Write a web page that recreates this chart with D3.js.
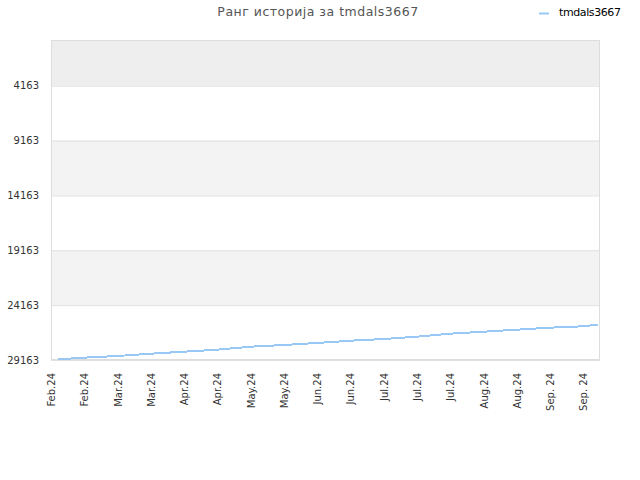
<!DOCTYPE html>
<html>
<head>
<meta charset="utf-8">
<script src="https://cdn.jsdelivr.net/npm/d3@7"></script>
<style>
  body { margin: 0; background: #fff; }
  svg { display: block; font-family: "DejaVu Sans", sans-serif; }
</style>
</head>
<body>
<svg id="chart" width="640" height="480"></svg>
<script>
var title = "Ранг историја за tmdals3667";
var seriesName = "tmdals3667";

// tick dates (every two weeks) and their labels
var tickDates = ["2024-02-12", "2024-02-26", "2024-03-11", "2024-03-25", "2024-04-08",
  "2024-04-22", "2024-05-06", "2024-05-20", "2024-06-03", "2024-06-17", "2024-07-01",
  "2024-07-15", "2024-07-29", "2024-08-12", "2024-08-26", "2024-09-09", "2024-09-23"];
var tickLabels = ["Feb.24", "Feb.24", "Mar.24", "Mar.24", "Apr.24", "Apr.24", "May.24",
  "May.24", "Jun.24", "Jun.24", "Jul.24", "Jul.24", "Jul.24", "Aug.24", "Aug.24",
  "Sep. 24", "Sep. 24"];
var rankTicks = [4163, 9163, 14163, 19163, 24163, 29163];

// rank history
var rankDates = ["2024-02-15", "2024-02-26", "2024-03-11", "2024-03-25", "2024-04-08",
  "2024-04-22", "2024-05-06", "2024-05-20", "2024-06-03", "2024-06-17", "2024-07-01",
  "2024-07-15", "2024-07-29", "2024-08-12", "2024-08-26", "2024-09-09", "2024-09-23",
  "2024-09-29"];
var ranks = [29098, 28950, 28797, 28590, 28405, 28223, 27950, 27795, 27612, 27403,
  27248, 27040, 26766, 26583, 26401, 26218, 26090, 25945];

var parse = d3.timeParse("%Y-%m-%d");

function BuildChart() {
  var svg = d3.select("#chart"),
      left = 51, right = 600, top = 40, bottom = 360;

  var xScale = d3.scaleTime()
    .domain([parse("2024-02-12"), parse("2024-09-30")])
    .range([left, right]);
  var yScale = d3.scaleLinear()
    .domain([0, 29163])
    .range([top, bottom]);

  // alternating bands
  var bands = [[0, 4163, "#eeeeee"], [9163, 14163, "#f3f3f3"], [19163, 24163, "#f3f3f3"]];
  svg.append("g").selectAll("rect")
    .data(bands)
    .enter().append("rect")
    .attr("x", left)
    .attr("width", right - left)
    .attr("y", function(d) { return yScale(d[0]); })
    .attr("height", function(d) { return yScale(d[1]) - yScale(d[0]); })
    .attr("fill", function(d) { return d[2]; });

  // grid + y axis
  var yAxis = svg.append("g")
    .attr("transform", "translate(" + left + ",0)")
    .call(d3.axisLeft(yScale).tickValues(rankTicks).tickSize(-(right - left)).tickPadding(12)
      .tickFormat(function(d) { return d; }));
  yAxis.select(".domain").remove();
  yAxis.selectAll("line").attr("stroke", "#e0e0e0");
  yAxis.selectAll("text").attr("fill", "#333").attr("font-size", "10px")
    .attr("font-family", "DejaVu Sans, sans-serif");

  // plot frame
  svg.append("rect")
    .attr("x", left + 0.5).attr("y", top + 0.5)
    .attr("width", right - left - 1).attr("height", bottom - top - 1)
    .attr("fill", "none").attr("stroke", "#dddddd");

  // x axis
  var xAxis = svg.append("g")
    .attr("transform", "translate(0," + bottom + ")")
    .call(d3.axisBottom(xScale).tickValues(tickDates.map(parse)).tickSize(0)
      .tickFormat(function(d, i) { return tickLabels[i]; }));
  xAxis.select(".domain").remove();
  xAxis.selectAll("text")
    .attr("fill", "#333").attr("font-size", "10px")
    .attr("font-family", "DejaVu Sans, sans-serif")
    .attr("transform", "rotate(-90)")
    .attr("text-anchor", "end")
    .attr("x", -13).attr("y", 0).attr("dy", "0.35em");

  // line
  var line = d3.line()
    .x(function(d, i) { return xScale(parse(rankDates[i])); })
    .y(function(d) { return yScale(d); });
  svg.append("path")
    .datum(ranks)
    .attr("d", line)
    .attr("fill", "none")
    .attr("stroke", "#99c8f4")
    .attr("stroke-width", 2)
    .attr("shape-rendering", "crispEdges");

  // title
  svg.append("text")
    .attr("x", 318).attr("y", 16)
    .attr("text-anchor", "middle")
    .attr("font-size", "12.5px")
    .attr("fill", "#555")
    .attr("letter-spacing", "0.5px")
    .text(title);

  // legend
  svg.append("line")
    .attr("x1", 539).attr("x2", 549).attr("y1", 13.5).attr("y2", 13.5)
    .attr("stroke", "#99c8f4").attr("stroke-width", 2);
  svg.append("text")
    .attr("x", 559).attr("y", 16)
    .attr("font-size", "11px")
    .attr("letter-spacing", "-0.4px")
    .attr("fill", "#000")
    .text(seriesName);
}

BuildChart();
</script>
</body>
</html>
